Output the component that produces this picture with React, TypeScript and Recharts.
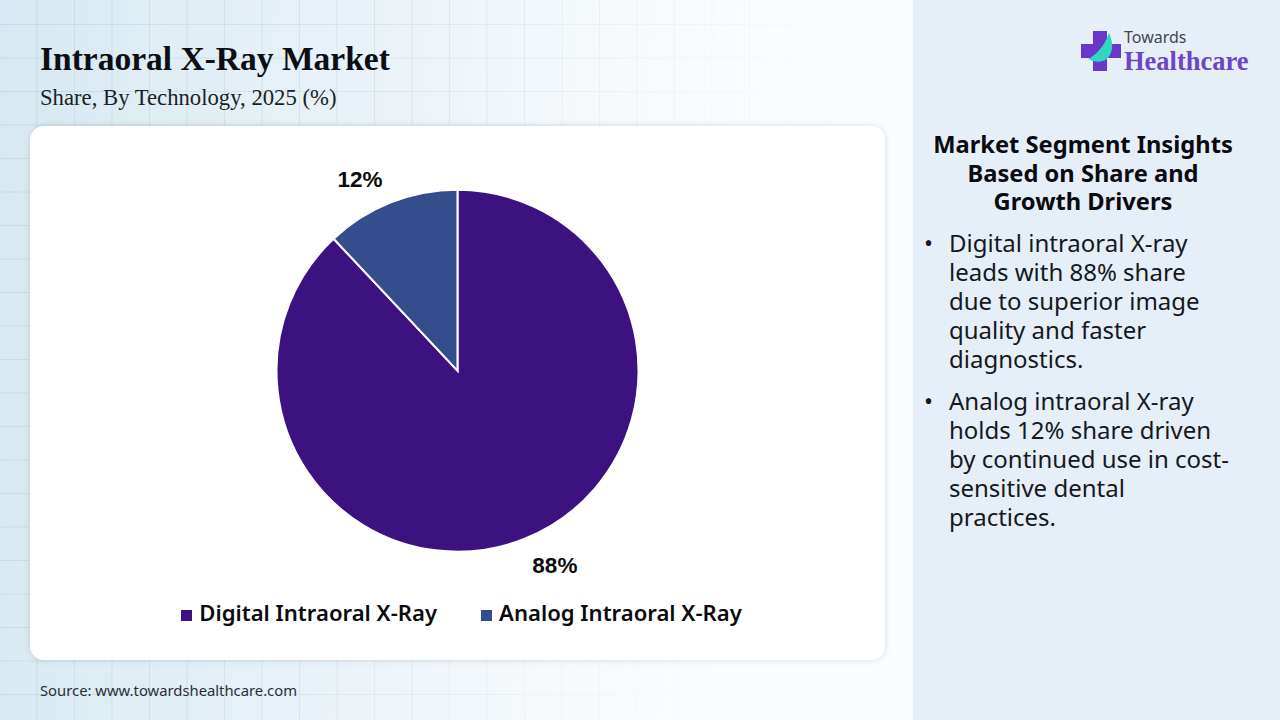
import { Cell, Legend, Pie, PieChart } from "recharts";

const segments = ["Digital Intraoral X-Ray", "Analog Intraoral X-Ray"];
const shares = [88, 12];
const colors = ["#3c1180", "#344d8c"];

const insights = [
  ["Digital intraoral X-ray", "leads with 88% share", "due to superior image", "quality and faster", "diagnostics."],
  ["Analog intraoral X-ray", "holds 12% share driven", "by continued use in cost-", "sensitive dental", "practices."],
];

const chartData = segments.map((name, i) => ({ name, value: shares[i] }));

const sans = "'Noto Sans', sans-serif";
const serif = "'Liberation Serif', serif";

// labels sit a bit further out than the radial position, pushed sideways
const renderLabel = (props: any) => {
  const { cx, cy, midAngle, outerRadius, value } = props;
  const rad = (midAngle * Math.PI) / 180;
  const r = outerRadius + 26.5;
  const side = Math.cos(rad) < 0 ? -1 : 1;
  return (
    <text
      x={cx + r * Math.cos(rad) + side * 21}
      y={cy - r * Math.sin(rad) + 1.5}
      textAnchor="middle"
      dominantBaseline="central"
      fontFamily="'Liberation Sans', sans-serif"
      fontWeight={700}
      fontSize={22.5}
      fill="#0b0b0f"
    >
      {value}%
    </text>
  );
};

function Logo() {
  return (
    <div style={{ position: "absolute", left: 1080, top: 28, width: 180, height: 50 }}>
      <svg width={44} height={44} style={{ position: "absolute", left: 0, top: 0 }}>
        <path d="M13 3h14v13h14v14H27v13H13V30H1V16h12z" fill="#6a38c8" />
        <path d="M8 31C14 28 24 20 29 5c5 10 4 20-2 26-6 4-13 3-19 0z" fill="#2fd6c0" />
      </svg>
      <div style={{ position: "absolute", left: 44, top: -2, fontFamily: sans, fontSize: 16, color: "#45454f" }}>Towards</div>
      <div style={{ position: "absolute", left: 44, top: 18, fontFamily: serif, fontWeight: 700, fontSize: 26.5, color: "#6f45c6", whiteSpace: "nowrap" }}>Healthcare</div>
    </div>
  );
}

export default function App() {
  return (
    <div
      style={{
        position: "absolute",
        left: 0,
        top: 0,
        width: 1280,
        height: 720,
        overflow: "hidden",
        backgroundColor: "#eaf2f8",
        backgroundImage:
          "linear-gradient(100deg, rgba(250,252,254,0) 0%, rgba(250,252,254,0.25) 30%, rgba(250,252,254,1) 62%), linear-gradient(90deg, rgba(175,195,208,0.4) 1px, transparent 1px), linear-gradient(180deg, rgba(175,195,208,0.4) 1px, transparent 1px), linear-gradient(90deg, #d6e8f1 0%, #e6f0f7 30%, #fafcfe 70%)",
        backgroundSize: "100% 100%, 37.5px 33.5px, 37.5px 33.5px, 100% 100%",
        backgroundPosition: "0 0, -1px 0, 0 24px, 0 0",
      }}
    >
      <div style={{ position: "absolute", left: 913, top: 0, width: 367, height: 720, background: "#e6eff8" }} />

      <div style={{ position: "absolute", left: 40, top: 40, fontFamily: serif, fontWeight: 700, fontSize: 33.5, color: "#0b0f14", whiteSpace: "nowrap" }}>
        Intraoral X-Ray Market
      </div>
      <div style={{ position: "absolute", left: 40, top: 85, fontFamily: serif, fontSize: 22.7, color: "#1a1f26", whiteSpace: "nowrap" }}>
        Share, By Technology, 2025 (%)
      </div>

      <div style={{ position: "absolute", left: 30, top: 126, width: 855, height: 534, background: "#fff", borderRadius: 14, boxShadow: "0 0 6px rgba(120,140,160,0.25)" }}>
        <PieChart width={855} height={534} margin={{ top: 0, right: 0, bottom: 0, left: 0 }}>
          <Pie
            data={chartData}
            dataKey="value"
            nameKey="name"
            cx={427.5}
            cy={244.7}
            outerRadius={181}
            startAngle={90}
            endAngle={-270}
            stroke="#ffffff"
            strokeWidth={2}
            label={renderLabel}
            labelLine={false}
            isAnimationActive={false}
          >
            {chartData.map((d, i) => (
              <Cell key={d.name} fill={colors[i]} />
            ))}
          </Pie>
          <Legend
            iconType="square"
            iconSize={11}
            verticalAlign="bottom"
            itemSorter={null}
            wrapperStyle={{ bottom: 33, left: 9, fontFamily: sans, fontWeight: 600, fontSize: 22.1 }}
            formatter={(value: string, _entry: any, index: number) => (
              <span style={{ color: "#0b0b0f", marginLeft: 3, marginRight: index === 0 ? 34 : 0 }}>{value}</span>
            )}
          />
        </PieChart>
      </div>

      <div style={{ position: "absolute", left: 40, top: 680, fontFamily: sans, fontSize: 14.8, color: "#2a2f36", whiteSpace: "nowrap" }}>
        Source: www.towardshealthcare.com
      </div>

      <Logo />

      <div style={{ position: "absolute", left: 913, top: 130, width: 340, textAlign: "center", fontFamily: sans, fontWeight: 700, fontSize: 23.7, lineHeight: "28.5px", color: "#0b0b0f" }}>
        <div>Market Segment Insights</div>
        <div>Based on Share and</div>
        <div>Growth Drivers</div>
      </div>

      {insights.map((lines, k) => (
        <div key={k} style={{ position: "absolute", left: 949, top: k === 0 ? 228 : 386, fontFamily: sans, fontSize: 24, lineHeight: "29px", color: "#15181d", whiteSpace: "nowrap" }}>
          <span style={{ position: "absolute", left: -25, top: 0 }}>•</span>
          {lines.map((l) => (
            <div key={l}>{l}</div>
          ))}
        </div>
      ))}
    </div>
  );
}
